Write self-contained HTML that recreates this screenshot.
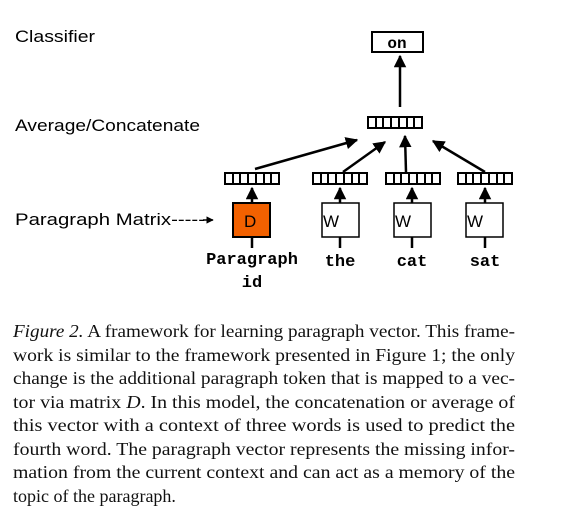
<!DOCTYPE html>
<html><head><style>body{margin:0;background:#fff}svg{display:block}</style></head><body>
<svg width="567" height="523" viewBox="0 0 567 523" xmlns="http://www.w3.org/2000/svg">
<defs>
<marker id="a" viewBox="0 0 10 10" refX="9" refY="5" markerWidth="5" markerHeight="5" orient="auto"><path d="M0,0 L10,5 L0,10 z" fill="#000"/></marker>
<g id="v"><rect x="0" y="0" width="54" height="11" fill="#fff" stroke="#000" stroke-width="2"/>
<path d="M8,0V11M15,0V11M23,0V11M31,0V11M39,0V11M46,0V11" stroke="#000" stroke-width="2"/></g>
</defs>
<g font-family="Liberation Sans, sans-serif" font-size="17" fill="#000">
<text x="15" y="42" textLength="80" lengthAdjust="spacingAndGlyphs">Classifier</text>
<text x="15" y="131" textLength="185" lengthAdjust="spacingAndGlyphs">Average/Concatenate</text>
<text x="15" y="225" textLength="190" lengthAdjust="spacingAndGlyphs">Paragraph Matrix-----</text>
</g>
<path d="M203,220 L213,220" stroke="#000" stroke-width="1.5" marker-end="url(#a)"/>
<rect x="372" y="32" width="51" height="20" fill="#fff" stroke="#000" stroke-width="2"/>
<text x="397" y="48" font-family="Liberation Mono, monospace" font-weight="bold" font-size="16" text-anchor="middle">on</text>
<g stroke="#000" stroke-width="2.5" fill="none">
<line x1="400" y1="107" x2="400" y2="56" marker-end="url(#a)"/>
<line x1="255" y1="169" x2="357" y2="140" marker-end="url(#a)"/>
<line x1="343" y1="172" x2="385" y2="142" marker-end="url(#a)"/>
<line x1="406" y1="172" x2="405" y2="136" marker-end="url(#a)"/>
<line x1="485" y1="172" x2="433" y2="141" marker-end="url(#a)"/>
<line x1="252" y1="203" x2="252" y2="188" marker-end="url(#a)"/>
<line x1="340" y1="203" x2="340" y2="188" marker-end="url(#a)"/>
<line x1="412" y1="203" x2="412" y2="188" marker-end="url(#a)"/>
<line x1="485" y1="203" x2="485" y2="188" marker-end="url(#a)"/>
<line x1="252" y1="237" x2="252" y2="248"/>
<line x1="340" y1="237" x2="340" y2="248"/>
<line x1="412" y1="237" x2="412" y2="248"/>
<line x1="485" y1="237" x2="485" y2="248"/>
</g>
<use href="#v" x="368" y="117"/>
<use href="#v" x="225" y="173"/>
<use href="#v" x="313" y="173"/>
<use href="#v" x="386" y="173"/>
<use href="#v" x="458" y="173"/>
<rect x="233" y="203" width="37" height="34" fill="#f26100" stroke="#000" stroke-width="2"/>
<rect x="322" y="203" width="37" height="34" fill="#fff" stroke="#000" stroke-width="1.5"/>
<rect x="394" y="203" width="37" height="34" fill="#fff" stroke="#000" stroke-width="1.5"/>
<rect x="466" y="203" width="37" height="34" fill="#fff" stroke="#000" stroke-width="1.5"/>
<g font-family="Liberation Sans, sans-serif" font-size="17">
<text x="244" y="227">D</text><text x="323" y="227">W</text><text x="395" y="227">W</text><text x="467" y="227">W</text>
</g>
<g font-family="Liberation Mono, monospace" font-weight="bold" font-size="17" text-anchor="middle">
<text x="252" y="264">Paragraph</text><text x="252" y="287">id</text>
<text x="340" y="266">the</text><text x="412" y="266">cat</text><text x="485" y="266">sat</text>
</g>
<g font-family="Liberation Serif, serif" font-size="18" fill="#111">
<text x="13" y="337" textLength="502" lengthAdjust="spacingAndGlyphs"><tspan font-style="italic">Figure 2.</tspan> A framework for learning paragraph vector. This frame-</text>
<text x="13" y="361" textLength="502" lengthAdjust="spacingAndGlyphs">work is similar to the framework presented in Figure 1; the only</text>
<text x="13" y="384" textLength="502" lengthAdjust="spacingAndGlyphs">change is the additional paragraph token that is mapped to a vec-</text>
<text x="13" y="408" textLength="502" lengthAdjust="spacingAndGlyphs">tor via matrix <tspan font-style="italic">D</tspan>.  In this model, the concatenation or average of</text>
<text x="13" y="431" textLength="502" lengthAdjust="spacingAndGlyphs">this vector with a context of three words is used to predict the</text>
<text x="13" y="455" textLength="502" lengthAdjust="spacingAndGlyphs">fourth word. The paragraph vector represents the missing infor-</text>
<text x="13" y="478" textLength="502" lengthAdjust="spacingAndGlyphs">mation from the current context and can act as a memory of the</text>
<text x="13" y="502">topic of the paragraph.</text>
</g>
</svg>
</body></html>
